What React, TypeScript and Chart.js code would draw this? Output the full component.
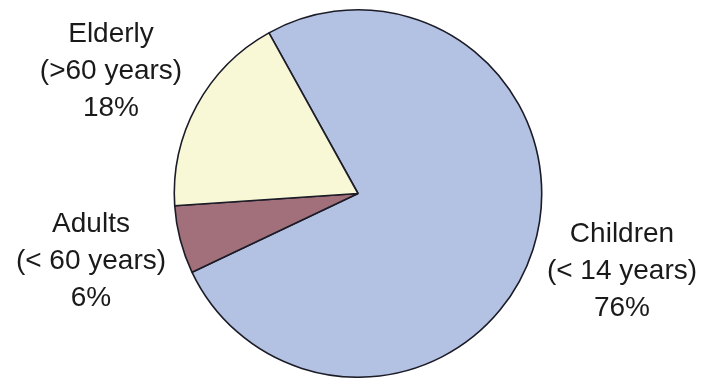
import React, { useEffect, useRef } from "react";
import { Chart, registerables } from "chart.js";

Chart.register(...registerables);

const categories = ["Children", "Adults", "Elderly"];
const ageRanges = ["(< 14 years)", "(< 60 years)", "(>60 years)"];
const shares = [76, 6, 18];
const sliceColors = ["#b3c2e2", "#a2707a", "#f8f8d6"];

// label anchor (center of the 3-line text block) per slice, in canvas px
const labelAnchors = [
  { x: 622, y: 271 },
  { x: 91, y: 261 },
  { x: 111, y: 71 },
];

const labelPlugin = {
  id: "sliceLabels",
  afterDraw(chart: any) {
    const ctx = chart.ctx;
    ctx.save();
    ctx.fillStyle = "#1a1a1a";
    ctx.font = "28px 'Liberation Sans', Arial, sans-serif";
    ctx.textAlign = "center";
    ctx.textBaseline = "middle";
    const lh = 37;
    categories.forEach((c, i) => {
      const a = labelAnchors[i];
      const lines = [c, ageRanges[i], shares[i] + "%"];
      lines.forEach((t, j) => {
        ctx.fillText(t, a.x, a.y + (j - 1) * lh);
      });
    });
    ctx.restore();
  },
};

export default function App() {
  const ref = useRef<HTMLCanvasElement>(null);
  useEffect(() => {
    document.body.style.margin = "0";
    const chart = new Chart(ref.current!, {
      type: "pie",
      data: {
        labels: categories,
        datasets: [
          {
            data: shares,
            backgroundColor: sliceColors,
            borderColor: "#1c1c28",
            borderWidth: 1.6,
          },
        ],
      },
      options: {
        animation: false,
        responsive: false,
        rotation: -29,
        layout: { padding: { top: 9, bottom: 0, left: 100, right: 90 } },
        plugins: {
          legend: { display: false },
          tooltip: { enabled: false },
        },
      },
      plugins: [labelPlugin],
    });
    return () => chart.destroy();
  }, []);
  return (
    <div style={{ position: "fixed", left: 0, top: 0, width: 706, height: 378, background: "#fff" }}>
      <canvas ref={ref} width={706} height={378} />
    </div>
  );
}
